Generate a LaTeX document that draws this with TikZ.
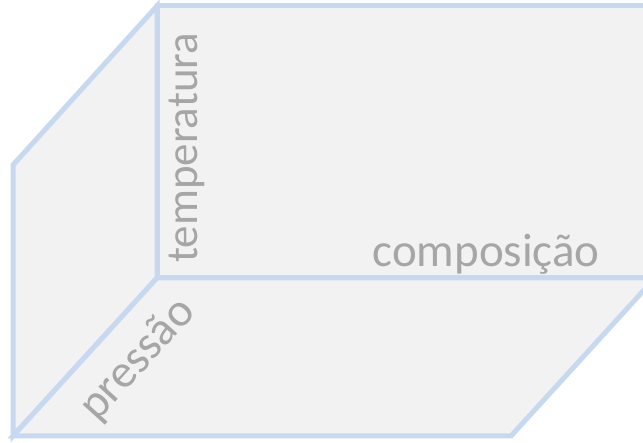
\documentclass[tikz,border=0pt]{standalone}
\usepackage{fontspec}
\setmainfont{Carlito}
\definecolor{edgeblue}{HTML}{C6D9F1}
\definecolor{facegray}{HTML}{F2F2F2}
\definecolor{labelgray}{HTML}{A6A6A6}
\begin{document}
\begin{tikzpicture}[x=1pt,y=-1pt,
  face/.style={fill=facegray,draw=edgeblue,line width=5pt,line join=miter},
  axislabel/.style={text=labelgray,inner sep=0pt,font=\fontsize{47}{56}\selectfont}]
\useasboundingbox (0,0) rectangle (643,443);
\clip (0,0) rectangle (643,443);
% corner points of the box
\coordinate (backTL) at (157,6);
\coordinate (backTR) at (680,6);
\coordinate (inner)  at (157,278);
\coordinate (backBR) at (680,278);
\coordinate (leftT)  at (13,165);
\coordinate (front)  at (13,436);
\coordinate (frontR) at (511,436);
\coordinate (sideR)  at (655,278);
% back wall
\draw[face] (backTL) -- (backTR) -- (backBR) -- (inner) -- cycle;
% left wall
\draw[face] (leftT) -- (backTL) -- (inner) -- (front) -- cycle;
% floor
\draw[face] (front) -- (inner) -- (sideR) -- (frontR) -- cycle;
% axis names
\node[axislabel,font=\fontsize{45}{54}\selectfont,rotate=90,anchor=base west] (temp) at (197,263) {temperatura};
\node[axislabel,anchor=base east] (comp) at (600,267) {composição};
\node[axislabel,rotate=47.7,anchor=base] (pres) at (147,368) {pressão};
\end{tikzpicture}
\end{document}
